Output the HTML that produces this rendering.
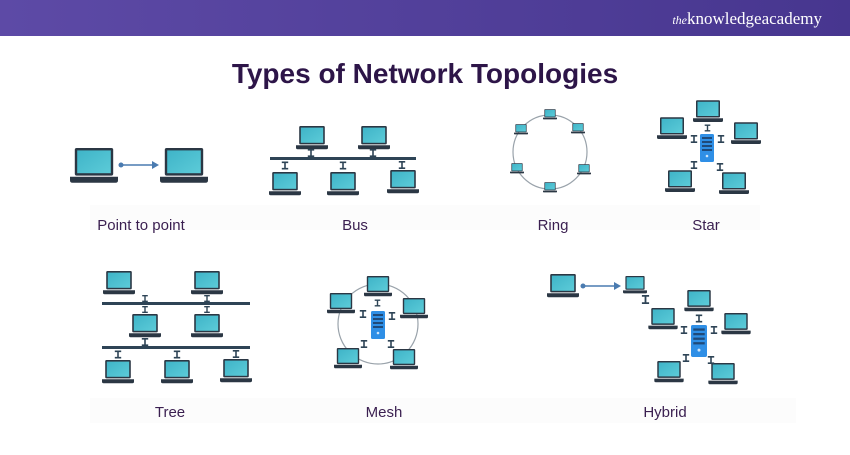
<!DOCTYPE html>
<html><head><style>
body{margin:0;width:850px;height:450px;background:#fff;overflow:hidden;font-family:"Liberation Sans",sans-serif}
</style></head><body>
<svg width="850" height="450" viewBox="0 0 850 450" xmlns="http://www.w3.org/2000/svg">
<defs>
<linearGradient id="hd" x1="0" x2="1"><stop offset="0" stop-color="#5d4aa6"/><stop offset="1" stop-color="#47368f"/></linearGradient>
<linearGradient id="sc" x1="0" y1="0" x2="1" y2="1"><stop offset="0" stop-color="#3fb4c8"/><stop offset="1" stop-color="#5ccbd8"/></linearGradient>
<symbol id="lp" viewBox="0 0 40 30">
<rect x="4" y="0" width="32" height="23" rx="1.5" fill="#2b3744"/>
<rect x="6" y="2" width="28" height="19" fill="url(#sc)"/>
<path d="M0 24 H40 V27 Q40 29 38 29 H2 Q0 29 0 27Z" fill="#2b3744"/>
</symbol>
<symbol id="sv" viewBox="0 0 14 28">
<rect x="0" y="0" width="14" height="28" rx="1.5" fill="#2f8fe6"/>
<rect x="2" y="3" width="10" height="2" fill="#1f4a7a"/><rect x="2" y="7" width="10" height="2" fill="#1f4a7a"/>
<rect x="2" y="11" width="10" height="2" fill="#1f4a7a"/><rect x="2" y="15" width="10" height="2" fill="#1f4a7a"/>
<circle cx="7" cy="22" r="1.3" fill="#cfe6fb"/>
</symbol>
<symbol id="cn" viewBox="0 0 10 10"><path d="M1 1H9M5 1V9M1 9H9" stroke="#2e4456" stroke-width="2" fill="none"/></symbol>
</defs>
<rect x="0" y="0" width="850" height="36" fill="url(#hd)"/>
<text x="822" y="24" text-anchor="end" font-family="Liberation Serif,serif" font-size="17" fill="#fff"><tspan font-style="italic" font-size="12">the</tspan>knowledgeacademy</text>
<text x="425" y="83" text-anchor="middle" font-size="28" font-weight="bold" fill="#2d1548">Types  of Network Topologies</text>

<rect x="90" y="205" width="670" height="25" fill="#fcfcfc"/>
<rect x="90" y="398" width="706" height="25" fill="#fcfcfc"/>

<!-- Point to point -->
<use href="#lp" x="70" y="148" width="48" height="36"/>
<use href="#lp" x="160" y="148" width="48" height="36"/>
<circle cx="121" cy="165" r="2.5" fill="#4a7bb0"/>
<line x1="121" y1="165" x2="154" y2="165" stroke="#4a7bb0" stroke-width="1.5"/>
<path d="M152 161 L159 165 L152 169Z" fill="#4a7bb0"/>

<!-- Bus -->
<rect x="270" y="157" width="146" height="3" fill="#2e4456"/>
<use href="#lp" x="296" y="126" width="32" height="24"/>
<use href="#lp" x="358" y="126" width="32" height="24"/>
<use href="#lp" x="269" y="172" width="32" height="24"/>
<use href="#lp" x="327" y="172" width="32" height="24"/>
<use href="#lp" x="387" y="170" width="32" height="24"/>
<use href="#cn" x="307" y="149" width="8" height="8"/><use href="#cn" x="369" y="149" width="8" height="8"/>
<use href="#cn" x="281" y="161" width="8" height="9"/><use href="#cn" x="339" y="161" width="8" height="9"/><use href="#cn" x="398" y="161" width="8" height="8"/>

<!-- Ring -->
<circle cx="550" cy="152" r="37" fill="none" stroke="#9aa3ab" stroke-width="1.2"/>
<use href="#lp" x="543" y="109" width="14" height="11"/>
<use href="#lp" x="571" y="123" width="14" height="11"/>
<use href="#lp" x="577" y="164" width="14" height="11"/>
<use href="#lp" x="543" y="182" width="14" height="11"/>
<use href="#lp" x="510" y="163" width="14" height="11"/>
<use href="#lp" x="514" y="124" width="14" height="11"/>

<!-- Star -->
<use href="#sv" x="700" y="133" width="14" height="30"/>
<use href="#lp" x="693" y="100" width="30" height="23"/>
<use href="#lp" x="657" y="117" width="30" height="23"/>
<use href="#lp" x="731" y="122" width="30" height="23"/>
<use href="#lp" x="665" y="170" width="30" height="23"/>
<use href="#lp" x="719" y="172" width="30" height="23"/>
<use href="#cn" x="704" y="124" width="7" height="8"/>
<use href="#cn" x="690" y="135" width="8" height="8"/>
<use href="#cn" x="717" y="135" width="8" height="8"/>
<use href="#cn" x="690" y="161" width="8" height="8"/>
<use href="#cn" x="716" y="163" width="8" height="8"/>

<!-- Tree -->
<rect x="102" y="302" width="148" height="3" fill="#2e4456"/>
<rect x="102" y="346" width="148" height="3" fill="#2e4456"/>
<use href="#lp" x="103" y="271" width="32" height="24"/>
<use href="#lp" x="191" y="271" width="32" height="24"/>
<use href="#lp" x="129" y="314" width="32" height="24"/>
<use href="#lp" x="191" y="314" width="32" height="24"/>
<use href="#lp" x="102" y="360" width="32" height="24"/>
<use href="#lp" x="161" y="360" width="32" height="24"/>
<use href="#lp" x="220" y="359" width="32" height="24"/>
<use href="#cn" x="141" y="295" width="8" height="7"/><use href="#cn" x="203" y="295" width="8" height="7"/>
<use href="#cn" x="141" y="306" width="8" height="7"/><use href="#cn" x="203" y="306" width="8" height="7"/>
<use href="#cn" x="141" y="338" width="8" height="8"/>
<use href="#cn" x="114" y="350" width="8" height="9"/><use href="#cn" x="173" y="350" width="8" height="9"/><use href="#cn" x="232" y="350" width="8" height="8"/>

<!-- Mesh -->
<circle cx="378" cy="324" r="40" fill="none" stroke="#9aa3ab" stroke-width="1.2"/>
<use href="#sv" x="371" y="310" width="14" height="30"/>
<use href="#lp" x="364" y="276" width="28" height="21"/>
<use href="#lp" x="327" y="293" width="28" height="21"/>
<use href="#lp" x="400" y="298" width="28" height="21"/>
<use href="#lp" x="334" y="348" width="28" height="21"/>
<use href="#lp" x="390" y="349" width="28" height="21"/>
<use href="#cn" x="374" y="299" width="7" height="8"/>
<use href="#cn" x="359" y="310" width="8" height="8"/>
<use href="#cn" x="388" y="312" width="8" height="8"/>
<use href="#cn" x="360" y="340" width="8" height="8"/>
<use href="#cn" x="387" y="340" width="8" height="8"/>

<!-- Hybrid -->
<use href="#lp" x="547" y="274" width="32" height="24"/>
<use href="#lp" x="623" y="276" width="24" height="18"/>
<circle cx="583" cy="286" r="2.5" fill="#4a7bb0"/>
<line x1="583" y1="286" x2="616" y2="286" stroke="#4a7bb0" stroke-width="1.5"/>
<path d="M614 282 L621 286 L614 290Z" fill="#4a7bb0"/>
<use href="#cn" x="641" y="295" width="9" height="9"/>
<use href="#lp" x="648" y="308" width="30" height="22"/>
<use href="#sv" x="691" y="325" width="16" height="32"/>
<use href="#lp" x="684" y="290" width="30" height="22"/>
<use href="#lp" x="721" y="313" width="30" height="22"/>
<use href="#lp" x="654" y="361" width="30" height="22"/>
<use href="#lp" x="708" y="363" width="30" height="22"/>
<use href="#cn" x="695" y="314" width="8" height="9"/>
<use href="#cn" x="680" y="326" width="8" height="8"/>
<use href="#cn" x="710" y="326" width="8" height="8"/>
<use href="#cn" x="682" y="354" width="8" height="8"/>
<use href="#cn" x="707" y="356" width="8" height="8"/>

<g font-size="15" fill="#3a1f50" text-anchor="middle">
<text x="141" y="230">Point to point</text>
<text x="355" y="230">Bus</text>
<text x="553" y="230">Ring</text>
<text x="706" y="230">Star</text>
<text x="170" y="417">Tree</text>
<text x="384" y="417">Mesh</text>
<text x="665" y="417">Hybrid</text>
</g>
</svg>
</body></html>
